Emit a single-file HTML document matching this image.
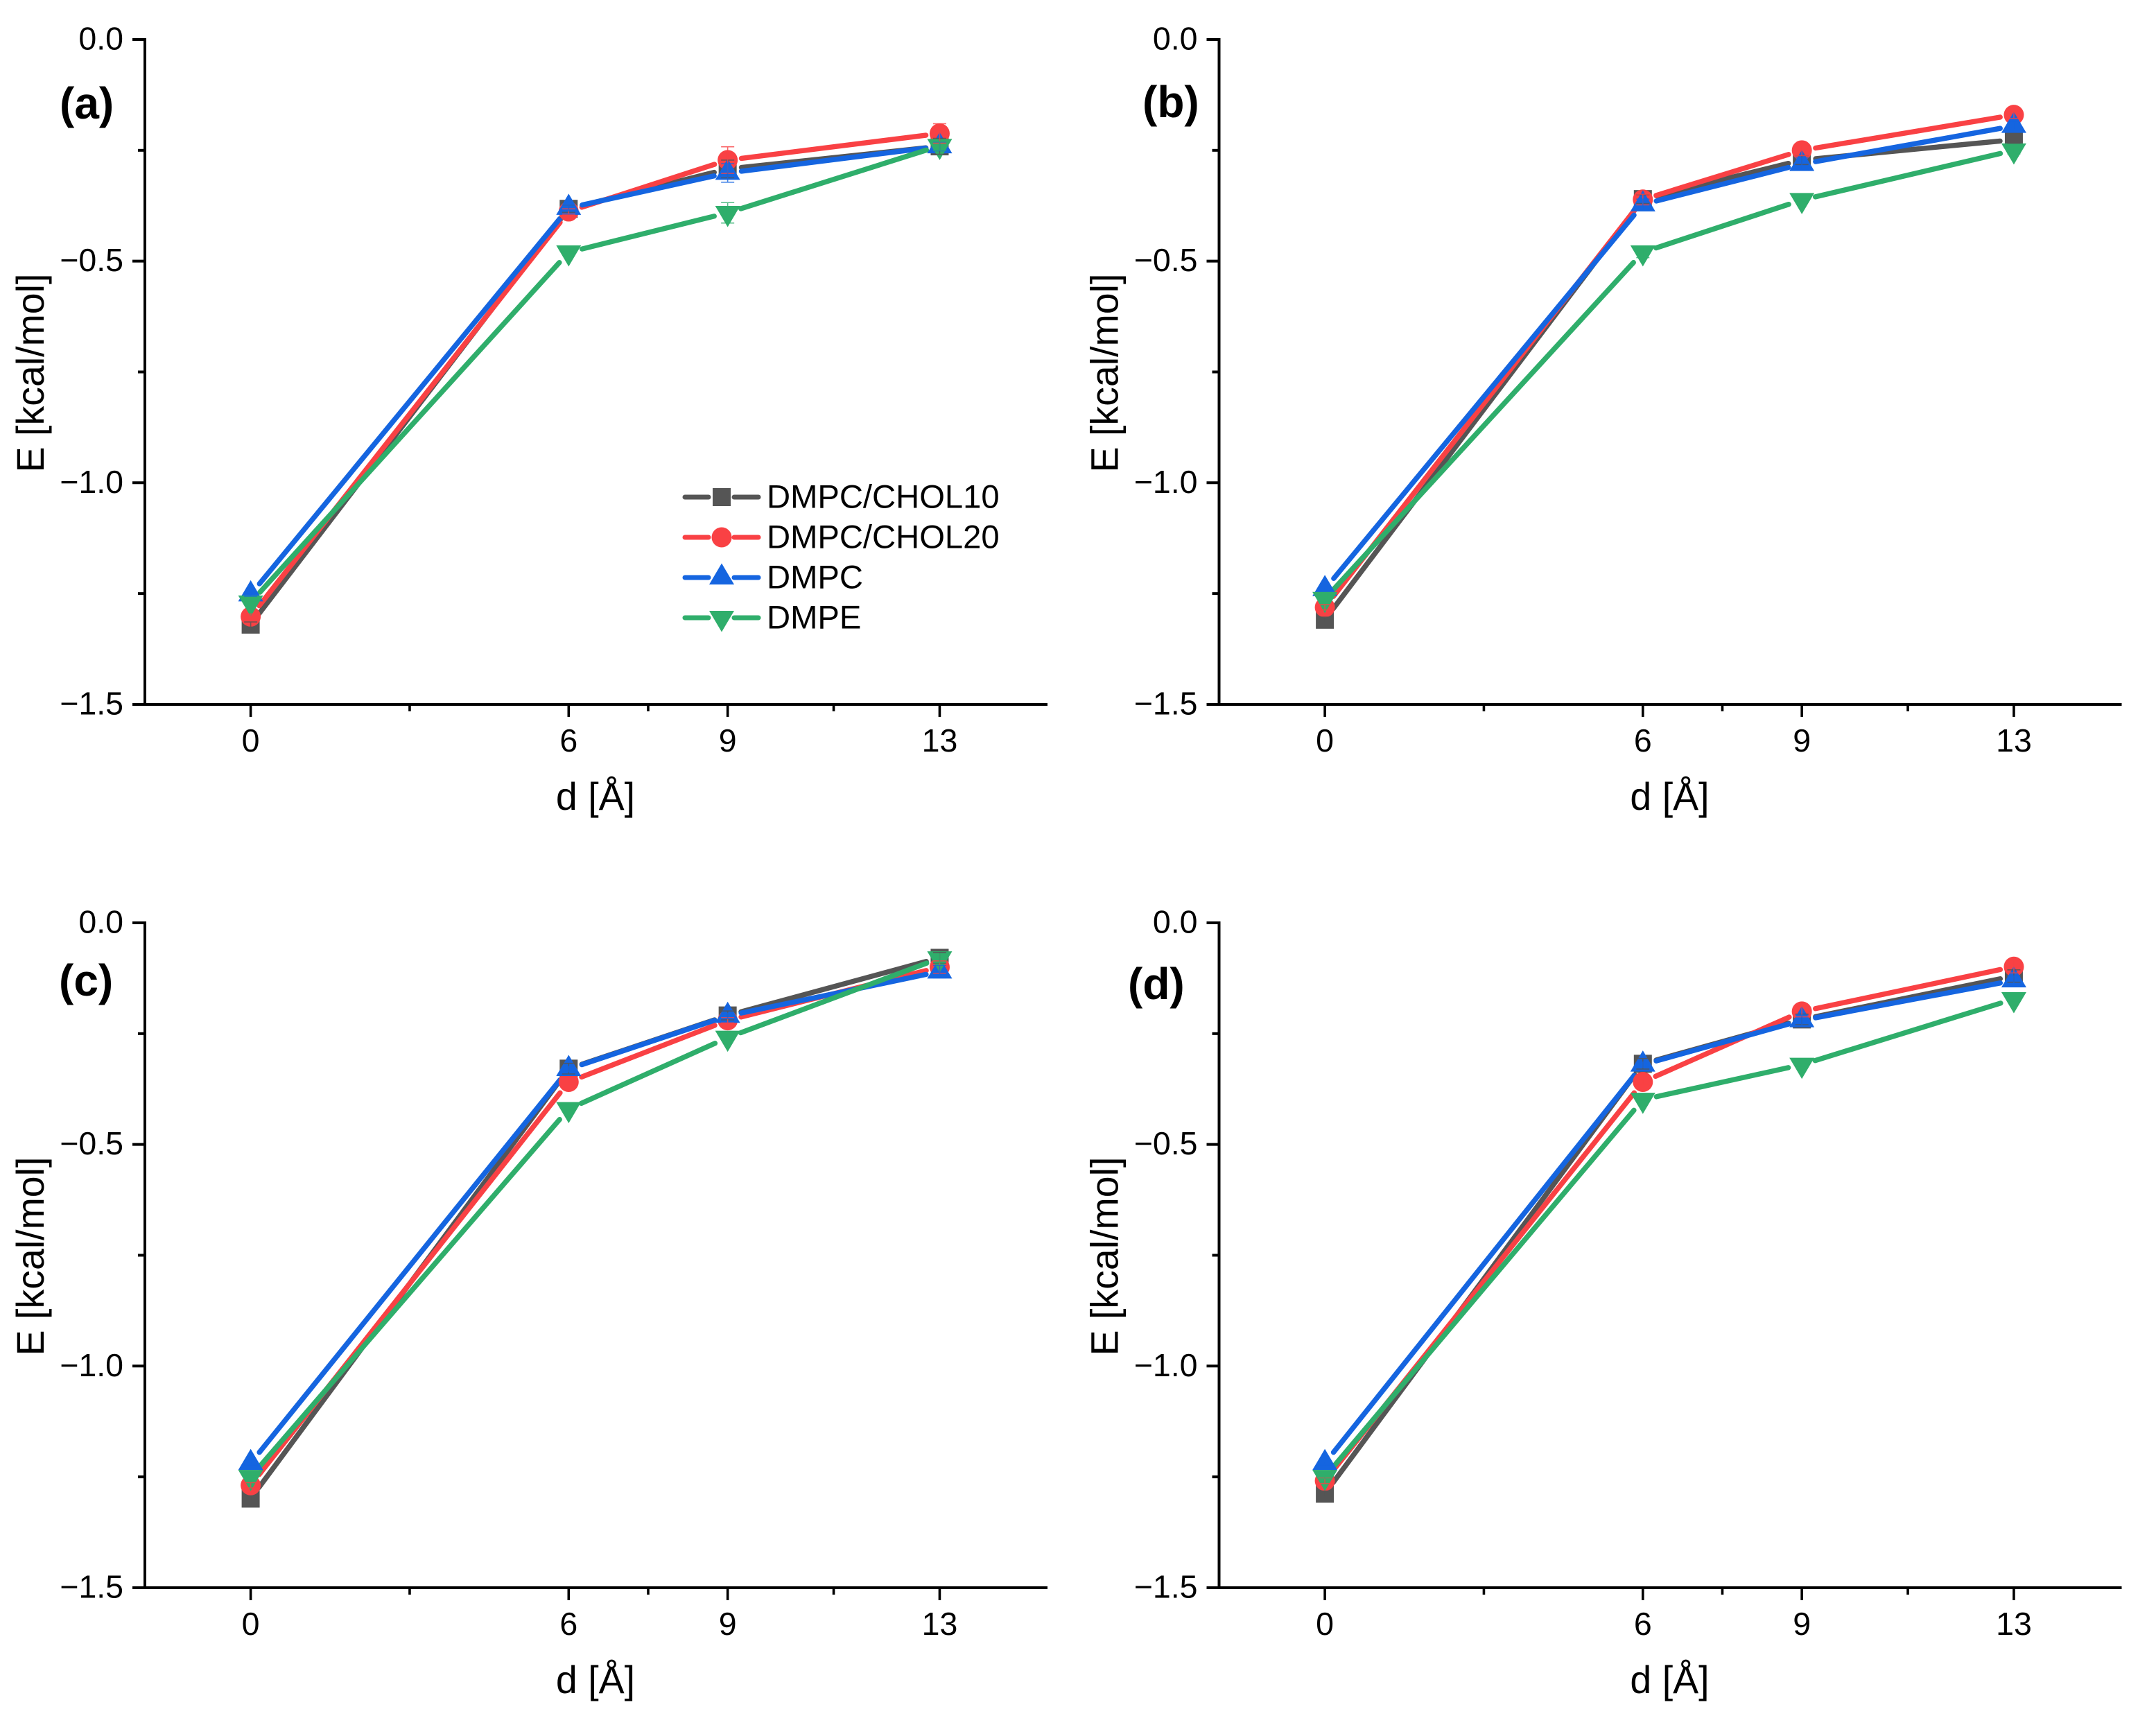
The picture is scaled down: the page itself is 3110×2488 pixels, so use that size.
<!DOCTYPE html>
<html lang="en">
<head>
<meta charset="utf-8">
<title>Energy versus distance for four lipid systems</title>
<style>
  html, body { margin: 0; padding: 0; background: #ffffff; }
  svg { display: block; }
  text { font-family: "Liberation Sans", Arial, sans-serif; fill: #000000; }
</style>
</head>
<body>
<svg id="figure" xmlns="http://www.w3.org/2000/svg" width="3110" height="2488" viewBox="0 0 3110 2488">
  <rect x="0" y="0" width="3110" height="2488" fill="#ffffff"/>
</svg>
<script>
const distances = [0, 6, 9, 13];
const seriesNames = ['DMPC/CHOL10', 'DMPC/CHOL20', 'DMPC', 'DMPE'];
const xMajorTicks = [0, 6, 9, 13];
const xMinorTicks = [3, 7.5, 11];
const yMajorTicks = [0, -0.5, -1, -1.5];
const yMajorLabels = ['0.0', '\u22120.5', '\u22121.0', '\u22121.5'];
const yMinorTicks = [-0.25, -0.75, -1.25];

const panelAChol10 = [-1.320, -0.382, -0.292, -0.241];
const panelAChol20 = [-1.302, -0.388, -0.272, -0.212];
const panelADmpc = [-1.252, -0.380, -0.301, -0.241];
const panelADmpe = [-1.270, -0.480, -0.391, -0.240];
const panelAChol10Err = [0.006, 0.008, 0.020, 0.018];
const panelAChol20Err = [0.006, 0.006, 0.030, 0.022];
const panelADmpcErr = [0.004, 0.006, 0.021, 0.010];
const panelADmpeErr = [0.004, 0.004, 0.023, 0.010];

const panelBChol10 = [-1.309, -0.360, -0.272, -0.226];
const panelBChol20 = [-1.281, -0.361, -0.250, -0.170];
const panelBDmpc = [-1.240, -0.372, -0.281, -0.195];
const panelBDmpe = [-1.262, -0.480, -0.362, -0.250];
const panelBChol10Err = [0.006, 0.010, 0.010, 0.008];
const panelBChol20Err = [0.006, 0.012, 0.012, 0.008];
const panelBDmpcErr = [0.004, 0.012, 0.014, 0.008];
const panelBDmpeErr = [0.004, 0.012, 0.004, 0.008];

const panelCChol10Err = [0.006, 0.012, 0.010, 0.012];
const panelCChol20Err = [0.006, 0.006, 0.006, 0.014];
const panelCDmpcErr = [0.004, 0.006, 0.006, 0.014];
const panelCDmpeErr = [0.004, 0.004, 0.006, 0.010];
const panelCChol10 = [-1.299, -0.329, -0.209, -0.079];
const panelCChol20 = [-1.269, -0.359, -0.220, -0.100];
const panelCDmpc = [-1.219, -0.330, -0.210, -0.110];
const panelCDmpe = [-1.250, -0.420, -0.259, -0.080];

const panelDChol10 = [-1.288, -0.318, -0.218, -0.120];
const panelDChol20 = [-1.259, -0.359, -0.200, -0.099];
const panelDDmpc = [-1.219, -0.320, -0.220, -0.130];
const panelDDmpe = [-1.250, -0.399, -0.320, -0.172];
const panelDChol10Err = [0.006, 0.012, 0.012, 0.014];
const panelDChol20Err = [0.006, 0.006, 0.012, 0.014];
const panelDDmpcErr = [0.004, 0.006, 0.012, 0.010];
const panelDDmpeErr = [0.004, 0.004, 0.004, 0.004];

const seriesColors = ['#555555', '#f94144', '#1565e0', '#2fae6b'];
const seriesKeys = ['chol10', 'chol20', 'dmpc', 'dmpe'];
const markerKinds = ['square', 'circle', 'up', 'down'];

const panels = [
  { id: 'a', label: '(a)', axisX: 209, y0: 57, labelX: 86, labelY: 171,
    values: [panelAChol10, panelAChol20, panelADmpc, panelADmpe],
    errors: [panelAChol10Err, panelAChol20Err, panelADmpcErr, panelADmpeErr] },
  { id: 'b', label: '(b)', axisX: 1758.5, y0: 57, labelX: 1648, labelY: 169,
    values: [panelBChol10, panelBChol20, panelBDmpc, panelBDmpe],
    errors: [panelBChol10Err, panelBChol20Err, panelBDmpcErr, panelBDmpeErr] },
  { id: 'c', label: '(c)', axisX: 209, y0: 1331, labelX: 85, labelY: 1436,
    values: [panelCChol10, panelCChol20, panelCDmpc, panelCDmpe],
    errors: [panelCChol10Err, panelCChol20Err, panelCDmpcErr, panelCDmpeErr] },
  { id: 'd', label: '(d)', axisX: 1758.5, y0: 1331, labelX: 1627, labelY: 1441,
    values: [panelDChol10, panelDChol20, panelDDmpc, panelDDmpe],
    errors: [panelDChol10Err, panelDChol20Err, panelDDmpcErr, panelDDmpeErr] }
];

const svg = document.getElementById('figure');
const NS = 'http://www.w3.org/2000/svg';
const PX_PER_ANGSTROM = 76.45;
const PX_PER_KCAL = 639.3;
const X_ORIGIN_OFFSET = 152.6;
const AXIS_WIDTH = 1301.5;
const LINE_GAP = 20;

function make(tag, geometry, parent) {
  const el = document.createElementNS(NS, tag);
  Object.keys(geometry).forEach(function (k) { el.setAttribute(k, geometry[k]); });
  parent.appendChild(el);
  return el;
}

function xScale(panel, d) {
  return panel.axisX + X_ORIGIN_OFFSET + d * PX_PER_ANGSTROM;
}

function yScale(panel, v) {
  return panel.y0 - v * PX_PER_KCAL;
}

function drawMarker(kind, cx, cy, color, parent) {
  if (kind === 'square') {
    return make('rect', { x: cx - 13, y: cy - 13, width: 26, height: 26, fill: color }, parent);
  }
  if (kind === 'circle') {
    return make('circle', { cx: cx, cy: cy, r: 14.5, fill: color }, parent);
  }
  if (kind === 'up') {
    return make('polygon', { points: (cx - 18) + ',' + (cy + 10) + ' ' + (cx + 18) + ',' + (cy + 10) + ' ' + cx + ',' + (cy - 20.5), fill: color }, parent);
  }
  return make('polygon', { points: (cx - 18) + ',' + (cy - 10) + ' ' + (cx + 18) + ',' + (cy - 10) + ' ' + cx + ',' + (cy + 20.5), fill: color }, parent);
}

function drawAxes(panel, group) {
  const bottom = yScale(panel, -1.5);
  const yAxis = make('line', { x1: panel.axisX, y1: panel.y0 - 2, x2: panel.axisX, y2: bottom + 2, stroke: '#000', 'stroke-width': 4 }, group);
  
  
  const xAxis = make('line', { x1: panel.axisX, y1: bottom, x2: panel.axisX + AXIS_WIDTH + 0.5, y2: bottom, stroke: '#000', 'stroke-width': 4 }, group);
  
  

  yMajorTicks.forEach(function (v, i) {
    const y = yScale(panel, v);
    const tick = make('line', { x1: panel.axisX - 18, y1: y, x2: panel.axisX, y2: y, stroke: '#000', 'stroke-width': 4 }, group);
    
    
    const label = make('text', { x: panel.axisX - 31, y: y + 14.5, 'text-anchor': 'end', 'font-size': 46.5 }, group);
    label.textContent = yMajorLabels[i];
    
    
  });
  yMinorTicks.forEach(function (v) {
    const y = yScale(panel, v);
    const tick = make('line', { x1: panel.axisX - 10, y1: y, x2: panel.axisX, y2: y, stroke: '#000', 'stroke-width': 4 }, group);
    
    
  });
  xMajorTicks.forEach(function (d) {
    const x = xScale(panel, d);
    const tick = make('line', { x1: x, y1: bottom, x2: x, y2: bottom + 18, stroke: '#000', 'stroke-width': 3.6 }, group);
    
    
    const label = make('text', { x: x, y: bottom + 68, 'text-anchor': 'middle', 'font-size': 46.5 }, group);
    label.textContent = String(d);
    
    
  });
  xMinorTicks.forEach(function (d) {
    const x = xScale(panel, d);
    const tick = make('line', { x1: x, y1: bottom, x2: x, y2: bottom + 10, stroke: '#000', 'stroke-width': 3.6 }, group);
    
    
  });

  const xTitle = make('text', { x: panel.axisX + 650, y: bottom + 152, 'text-anchor': 'middle', 'font-size': 55.5 }, group);
  xTitle.textContent = 'd [\u00c5]';
  
  

  const titleX = panel.axisX - 146;
  const titleY = panel.y0 + 481;
  const yTitle = make('text', { x: titleX, y: titleY, 'text-anchor': 'middle', 'font-size': 55.5, transform: 'rotate(-90 ' + titleX + ' ' + titleY + ')' }, group);
  yTitle.textContent = 'E [kcal/mol]';
  
  

  const tag = make('text', { x: panel.labelX, y: panel.labelY, 'font-size': 64, 'font-weight': 'bold' }, group);
  tag.textContent = panel.label;
  
  
}

function drawSeriesLines(panel, group) {
  panel.values.forEach(function (vals, s) {
    for (let i = 0; i < distances.length - 1; i++) {
      const x1 = xScale(panel, distances[i]);
      const y1 = yScale(panel, vals[i]);
      const x2 = xScale(panel, distances[i + 1]);
      const y2 = yScale(panel, vals[i + 1]);
      const len = Math.hypot(x2 - x1, y2 - y1);
      if (len <= LINE_GAP * 2) { continue; }
      const ux = (x2 - x1) / len;
      const uy = (y2 - y1) / len;
      const seg = make('line', {
        x1: x1 + ux * LINE_GAP, y1: y1 + uy * LINE_GAP,
        x2: x2 - ux * LINE_GAP, y2: y2 - uy * LINE_GAP,
        stroke: seriesColors[s], 'stroke-width': 7.4, 'stroke-linecap': 'round'
      }, group);
      
      
    }
  });
}

function drawSeriesMarkers(panel, group) {
  panel.values.forEach(function (vals, s) {
    vals.forEach(function (v, i) {
      const m = drawMarker(markerKinds[s], xScale(panel, distances[i]), yScale(panel, v), seriesColors[s], group);
      
      
    });
  });
}

function drawErrorBars(panel, group) {
  panel.values.forEach(function (vals, s) {
    vals.forEach(function (v, i) {
      const err = panel.errors[s][i];
      const x = xScale(panel, distances[i]);
      const hi = yScale(panel, v + err);
      const lo = yScale(panel, v - err);
      const d = 'M' + (x - 9.5) + ' ' + hi + 'H' + (x + 9.5) + 'M' + (x - 9.5) + ' ' + lo + 'H' + (x + 9.5) + 'M' + x + ' ' + hi + 'V' + lo;
      const bar = make('path', { d: d, fill: 'none', stroke: seriesColors[s], 'stroke-width': 1.6, opacity: 0.8 }, group);
      
      
    });
  });
}

function drawLegend(parent) {
  const group = make('g', {}, parent);
  
  
  const rowTop = 717;
  const rowStep = 58;
  seriesNames.forEach(function (name, s) {
    const y = rowTop + s * rowStep;
    const entry = make('g', {}, group);
    
    
    const left = make('line', { x1: 988, y1: y, x2: 1022, y2: y, stroke: seriesColors[s], 'stroke-width': 7, 'stroke-linecap': 'round' }, entry);
    
    
    const right = make('line', { x1: 1059, y1: y, x2: 1094, y2: y, stroke: seriesColors[s], 'stroke-width': 7, 'stroke-linecap': 'round' }, entry);
    
    
    const m = drawMarker(markerKinds[s], 1041, y, seriesColors[s], entry);
    
    
    const label = make('text', { x: 1106, y: y + 15.5, 'font-size': 47.2 }, entry);
    label.textContent = name;
    
    
  });
}

panels.forEach(function (panel) {
  const group = make('g', {}, svg);
  
  
  drawAxes(panel, group);
  drawSeriesLines(panel, group);
  drawSeriesMarkers(panel, group);
  drawErrorBars(panel, group);
});
drawLegend(svg);
</script>
</body>
</html>
